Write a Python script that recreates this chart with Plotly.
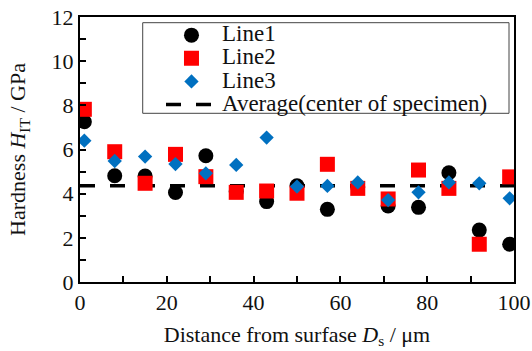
import plotly.graph_objects as go

distance = [1, 8, 15, 22, 29, 36, 43, 50, 57, 64, 71, 78, 85, 92, 99]
line1 = [7.26, 4.81, 4.80, 4.05, 5.72, 4.10, 3.64, 4.36, 3.29, 4.30, 3.44, 3.38, 4.95, 2.35, 1.71]
line2 = [7.82, 5.90, 4.47, 5.78, 4.77, 4.06, 4.12, 4.02, 5.33, 4.24, 3.76, 5.07, 4.24, 1.71, 4.76]
line3 = [6.40, 5.48, 5.68, 5.34, 4.92, 5.30, 6.54, 4.32, 4.35, 4.51, 3.71, 4.06, 4.51, 4.47, 3.79]
average_x = [0, 100]
average_value = 4.36
legend_names = ["Line1", "Line2", "Line3", "Average(center of specimen)"]

FONT = "Liberation Serif"


def big(t):
    return '<span style="font-size:23px">' + t + "</span>"


fig = go.Figure()
fig.add_trace(go.Scatter(x=average_x, y=[average_value] * len(average_x), mode="lines",
                         name=big(legend_names[3]), legendrank=4,
                         line=dict(color="black", width=3.5, dash="15px,15px")))
fig.add_trace(go.Scatter(x=distance, y=line1, mode="markers", name=big(legend_names[0]), legendrank=1,
                         marker=dict(symbol="circle", size=15, color="black")))
fig.add_trace(go.Scatter(x=distance, y=line2, mode="markers", name=big(legend_names[1]), legendrank=2,
                         marker=dict(symbol="square", size=15, color="#ff0000")))
fig.add_trace(go.Scatter(x=distance, y=line3, mode="markers", name=big(legend_names[2]), legendrank=3,
                         marker=dict(symbol="diamond", size=11, color="#0070c0")))

# legend frame
fig.add_shape(type="rect", xref="paper", yref="paper",
              x0=0.1445, x1=0.9885, y0=0.6366, y1=0.9785,
              fillcolor="white", line=dict(color="#444", width=1), layer="below")

fig.update_layout(
    width=532, height=351,
    margin=dict(l=80, r=18, t=17, b=69),
    plot_bgcolor="white", paper_bgcolor="white",
    font=dict(family=FONT, size=22, color="#111"),
    showlegend=True,
    legend=dict(x=0.1866, y=0.994, xanchor="left", yanchor="top",
                bgcolor="rgba(0,0,0,0)", borderwidth=0,
                font=dict(size=15.5, family=FONT, color="#111"), itemwidth=51, tracegroupgap=0),
    xaxis=dict(range=[0, 100], dtick=20, tick0=0, showgrid=False, zeroline=False,
               automargin=False, ticklabeloverflow="allow",
               showline=True, linecolor="black", linewidth=2, mirror=True,
               ticks="inside", ticklen=6, tickcolor="black", tickwidth=2,
               minor=dict(dtick=10, ticks="inside", ticklen=6, tickcolor="black", tickwidth=2),
               tickfont=dict(size=22, family=FONT),
               title=dict(text="Distance from surfase <i>D</i><sub>s</sub> / μm",
                          font=dict(size=22, family=FONT), standoff=12)),
    yaxis=dict(range=[0, 12], dtick=2, tick0=0, showgrid=False, zeroline=False,
               automargin=False, ticklabeloverflow="allow",
               showline=True, linecolor="black", linewidth=2, mirror=True,
               ticks="inside", ticklen=6, tickcolor="black", tickwidth=2,
               minor=dict(dtick=1, ticks="inside", ticklen=6, tickcolor="black", tickwidth=2),
               tickfont=dict(size=22, family=FONT),
               title=dict(text="Hardness <i>H</i><sub>IT</sub> / GPa",
                          font=dict(size=22, family=FONT), standoff=20)),
)

fig.write_html(
    "out.html",
    config={"displayModeBar": False},
    post_script="document.body.style.margin='0';document.documentElement.style.overflow='hidden';",
)
